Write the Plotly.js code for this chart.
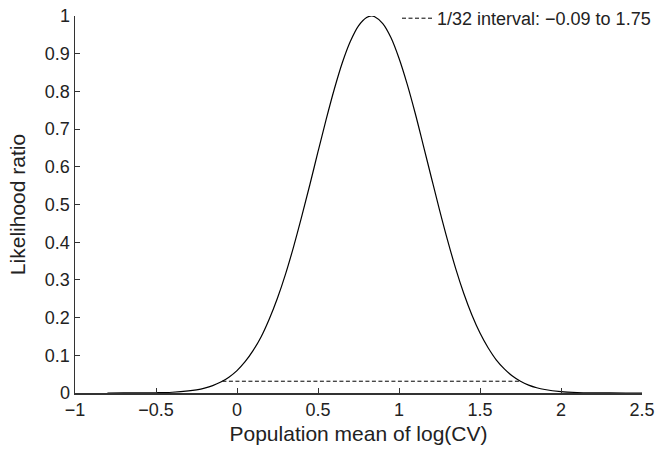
<!DOCTYPE html>
<html>
<head>
<meta charset="utf-8">
<script src="https://cdn.plot.ly/plotly-3.0.1.min.js"></script>
<style>html,body{margin:0;padding:0;background:#fff;}#chart{width:662px;height:453px;}</style>
</head>
<body>
<div id="chart"></div>
<script>
// Likelihood curve
const xValues = [-0.80,-0.70,-0.60,-0.50,-0.40,-0.30,-0.25,-0.20,-0.15,-0.10,-0.05,0.00,0.05,0.10,0.15,0.20,0.25,0.30,0.35,0.40,0.45,0.50,0.55,0.60,0.65,0.70,0.75,0.80,0.83,0.85,0.90,0.95,1.00,1.05,1.10,1.15,1.20,1.25,1.30,1.35,1.40,1.45,1.50,1.55,1.60,1.65,1.70,1.75,1.80,1.85,1.90,2.00,2.10,2.20,2.30,2.40,2.50];
const likelihood = [0.00002,0.00007,0.00023,0.0007,0.002,0.0054,0.0084,0.013,0.0196,0.029,0.042,0.0595,0.083,0.113,0.150,0.197,0.252,0.316,0.389,0.469,0.553,0.640,0.725,0.805,0.876,0.933,0.974,0.996,1.000,0.998,0.980,0.943,0.888,0.820,0.742,0.657,0.571,0.486,0.405,0.330,0.264,0.207,0.159,0.120,0.088,0.064,0.045,0.031,0.021,0.014,0.0092,0.0037,0.0013,0.00046,0.00014,0.00004,0.00001];
// 1/32 likelihood interval
const intervalX = [-0.09, 1.75];
const intervalY = [1/32, 1/32];
const intervalLabel = "1/32 interval: \u22120.09 to 1.75";
const xTicks = [-1,-0.5,0,0.5,1,1.5,2,2.5];
const xTickText = ["\u22121","\u22120.5","0","0.5","1","1.5","2","2.5"];
const yTicks = [0,0.1,0.2,0.3,0.4,0.5,0.6,0.7,0.8,0.9,1];
const yTickText = ["0","0.1","0.2","0.3","0.4","0.5","0.6","0.7","0.8","0.9","1"];

const font = "Liberation Sans, Arial, Helvetica, sans-serif";
const ink = "#222";
const traces = [
  {x: xValues, y: likelihood, type: "scatter", mode: "lines", line: {color: "#000", width: 1.2, shape: "spline"}, showlegend: false, hoverinfo: "skip"},
  {x: intervalX, y: intervalY, type: "scatter", mode: "lines", line: {color: "#000", width: 1, dash: "4px,2.5px"}, name: intervalLabel, showlegend: true}
];
const layout = {
  width: 662, height: 453,
  margin: {l: 75, r: 20, t: 16, b: 60, autoexpand: false},
  paper_bgcolor: "#fff", plot_bgcolor: "#fff",
  font: {family: font, size: 18, color: ink},
  showlegend: true,
  legend: {xref: "container", yref: "container", x: 0.5997, y: 1.0, xanchor: "left", yanchor: "top", bgcolor: "rgba(0,0,0,0)", font: {size: 18, family: font, color: ink}, itemwidth: 30, tracegroupgap: 0},
  xaxis: {
    range: [-1, 2.5], tickvals: xTicks, ticktext: xTickText,
    showgrid: false, zeroline: false, showline: true, linecolor: "#333", linewidth: 1.5,
    ticks: "inside", ticklen: 5, tickcolor: "#333", tickwidth: 1,
    tickfont: {size: 18, family: font, color: ink},
    title: {text: "Population mean of log(CV)", font: {size: 21, family: font, color: ink}, standoff: 7},
    fixedrange: true
  },
  yaxis: {
    range: [0, 1], tickvals: yTicks, ticktext: yTickText,
    showgrid: false, zeroline: false, showline: true, linecolor: "#333", linewidth: 1.5,
    ticks: "inside", ticklen: 5, tickcolor: "#333", tickwidth: 1,
    tickfont: {size: 18, family: font, color: ink},
    title: {text: "Likelihood ratio", font: {size: 21, family: font, color: ink}, standoff: 13},
    fixedrange: true
  }
};
Plotly.newPlot("chart", traces, layout, {displayModeBar: false, staticPlot: true});
</script>
</body>
</html>
